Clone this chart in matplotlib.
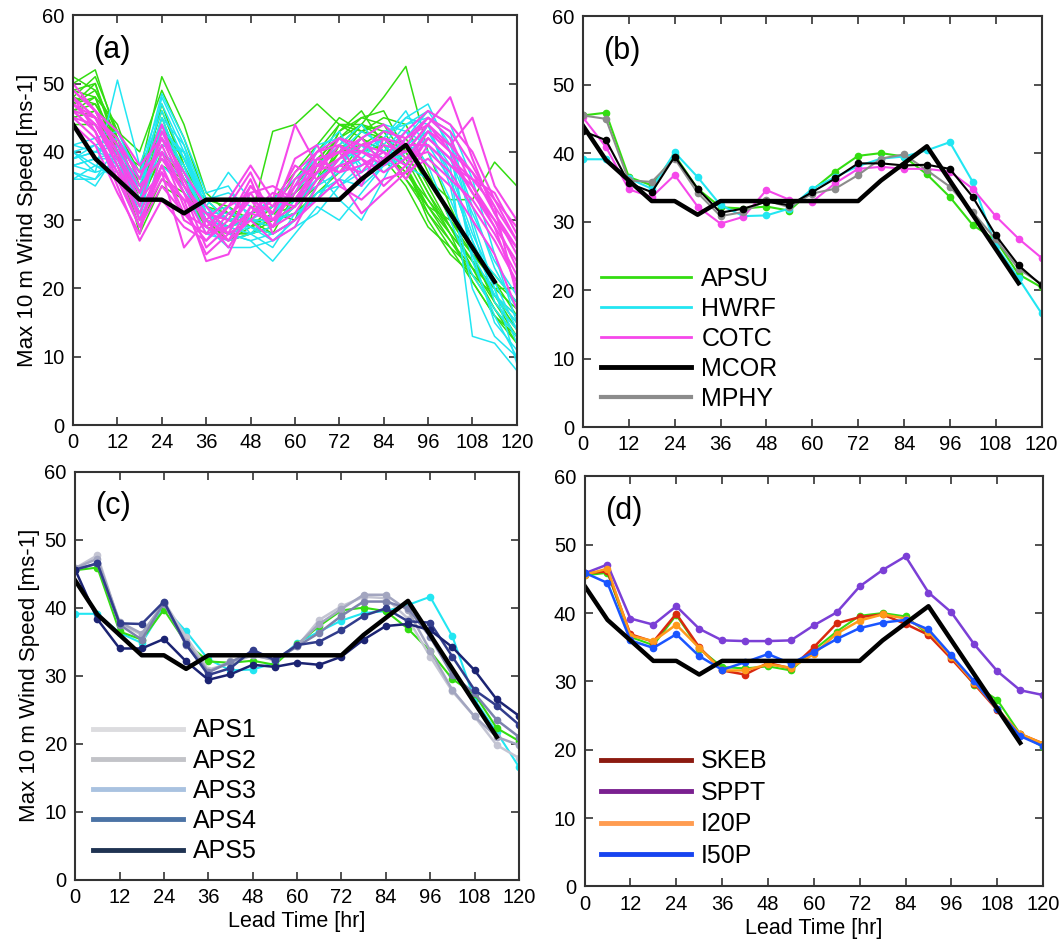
import matplotlib
matplotlib.use("Agg")
import matplotlib.pyplot as plt
from matplotlib.lines import Line2D

plt.rcParams["font.family"] = ["Liberation Sans", "DejaVu Sans"]

# lead times (hr)
lead = [0, 6, 12, 18, 24, 30, 36, 42, 48, 54, 60, 66, 72, 78, 84, 90, 96, 102, 108, 114, 120]
obs_lead = lead[:20]

# best track (thick black)
obs = [44, 39, 36, 33, 33, 31, 33, 33, 33, 33, 33, 33, 33, 36, 38.5, 41, 36, 31, 26, 21]

# panel (a): ensemble members
apsu_members = [
    [50, 52, 42, 36, 46, 38, 32, 30, 29, 32, 36, 40, 44, 44, 48, 52.5, 40, 32, 25, 18, 14],
    [48, 51, 43, 37, 51, 44, 34, 31, 30, 43, 44, 47, 44, 42, 40, 37, 32, 28, 24, 19, 15],
    [47, 48, 40, 33, 44, 37, 31, 29, 28, 29, 33, 38, 42, 45, 46, 40, 34, 29, 23, 17, 13],
    [46, 47, 41, 35, 42, 35, 30, 28, 28, 31, 32, 36, 40, 44, 43, 42, 36, 33, 33, 38.5, 35],
    [45, 46, 39, 31, 38, 36, 30, 27, 29, 28, 30, 35, 41, 44, 42, 38, 32, 27, 22, 17, 12],
    [44, 44, 38, 29, 36, 34, 29, 28, 30, 30, 31, 33, 38, 42, 40, 36, 31, 26, 21, 16, 13],
    [49, 50, 41, 34, 45, 37, 31, 29, 31, 32, 34, 37, 43, 46, 41, 38, 30, 25, 22, 19, 16],
    [46, 45, 40, 32, 40, 36, 33, 32, 30, 29, 35, 39, 42, 44, 40, 37, 33, 29, 24, 20, 17],
    [47, 49, 42, 34, 47, 38, 30, 27, 28, 30, 32, 35, 39, 43, 45, 44, 37, 30, 25, 21, 18],
    [45, 46, 40, 28, 35, 33, 31, 30, 29, 31, 33, 35, 40, 41, 39, 35, 29, 26, 23, 20, 20],
    [51, 49, 43, 40, 49, 42, 33, 30, 31, 33, 37, 41, 45, 43, 44, 39, 33, 28, 24, 19, 14],
    [46, 48, 39, 36, 43, 39, 32, 31, 29, 30, 31, 34, 37, 41, 43, 38, 31, 27, 23, 18, 13],
    [48, 47, 42, 33, 39, 35, 29, 27, 28, 29, 32, 36, 43, 45, 44, 41, 35, 29, 25, 22, 18],
    [47, 50, 40, 38, 44, 36, 30, 29, 30, 28, 34, 37, 41, 40, 41, 36, 32, 30, 26, 21, 16],
    [49, 48, 44, 35, 41, 40, 31, 32, 29, 31, 30, 38, 44, 43, 42, 40, 34, 28, 21, 16, 12],
]
hwrf_members = [
    [38, 37, 50.5, 38, 47, 40, 33, 30, 29, 27, 30, 34, 36, 40, 42, 45, 47, 40, 25, 15, 11],
    [37, 35, 40, 33, 48, 41, 31, 28, 27, 24, 28, 32, 30, 34, 38, 40, 44, 35, 20, 13, 10],
    [40, 41, 38, 30, 44, 39, 32, 37, 33, 31, 35, 41, 42, 38, 40, 44, 45, 42, 29, 18, 14],
    [36, 38, 36, 29, 40, 37, 30, 29, 28, 29, 32, 37, 33, 30, 36, 42, 46, 44, 36, 25, 15],
    [39, 40, 41, 34, 42, 38, 29, 26, 26, 27, 29, 31, 35, 37, 39, 41, 43, 38, 13, 12, 8],
    [41, 42, 43, 36, 39, 36, 31, 31, 30, 32, 33, 35, 37, 39, 42, 46, 40, 33, 25, 19, 16],
    [38, 39, 39, 35, 45, 41, 33, 34, 32, 30, 31, 33, 38, 42, 44, 43, 38, 30, 22, 17, 13],
    [40, 38, 37, 32, 41, 40, 32, 30, 31, 33, 36, 39, 40, 43, 41, 38, 36, 31, 26, 22, 18],
    [37, 36, 39, 31, 43, 38, 30, 28, 29, 28, 30, 35, 39, 41, 37, 40, 42, 39, 31, 24, 19],
    [39, 40, 42, 37, 46, 39, 31, 32, 28, 31, 34, 38, 41, 44, 40, 38, 44, 36, 27, 20, 9],
    [38, 39, 40, 36, 48.5, 42, 34, 35, 30, 29, 33, 36, 39, 40, 43, 44, 46, 41, 32, 23, 17],
    [40, 37, 38, 33, 43, 40, 31, 29, 30, 30, 34, 40, 43, 37, 41, 45, 44, 40, 24, 16, 10],
    [36, 36, 41, 30, 38, 35, 28, 27, 28, 26, 31, 33, 36, 35, 38, 39, 43, 37, 28, 21, 14],
    [41, 40, 39, 32, 44, 39, 33, 33, 31, 33, 32, 36, 38, 41, 39, 42, 45, 43, 30, 20, 12],
    [39, 41, 42, 34, 45, 37, 30, 28, 27, 28, 30, 34, 35, 38, 40, 43, 41, 36, 27, 19, 15],
]
cotc_members = [
    [50, 46, 40, 34, 41, 34, 28, 29, 33, 31, 37, 40, 41, 36, 39, 40, 44, 48, 39, 31, 25],
    [48, 45, 42, 36, 44, 35, 31, 27, 30, 33, 44, 38, 40, 42, 44, 41, 45, 42, 35, 30, 26],
    [47, 44, 38, 30, 36, 33, 24, 25, 32, 29, 31, 36, 38, 39, 35, 38, 43, 40, 37, 33, 29],
    [46, 43, 35, 27, 33, 29, 27, 30, 36, 28, 30, 33, 36, 31, 34, 37, 39, 36, 33, 28, 22],
    [45, 42, 37, 31, 38, 31, 29, 32, 34, 35, 33, 38, 40, 40, 38, 42, 44, 41, 45, 35, 30],
    [49, 46, 43, 38, 42, 37, 32, 28, 30, 27, 29, 35, 39, 41, 42, 39, 40, 37, 32, 27, 21],
    [44, 41, 34, 28, 40, 32, 25, 28, 35, 31, 39, 41, 35, 33, 36, 37, 42, 39, 34, 29, 24],
    [47, 44, 39, 33, 37, 26, 30, 33, 38, 33, 32, 37, 42, 40, 43, 42, 45, 43, 38, 32, 19],
    [46, 45, 41, 35, 39, 34, 30, 26, 31, 30, 34, 39, 37, 38, 40, 36, 41, 38, 36, 34, 28],
    [48, 43, 36, 29, 35, 31, 27, 31, 33, 29, 35, 37, 39, 42, 38, 41, 38, 35, 30, 25, 17],
    [47, 45, 38, 32, 43, 36, 29, 27, 32, 30, 35, 40, 42, 41, 40, 38, 42, 39, 36, 32, 27],
    [45, 44, 40, 30, 37, 33, 31, 30, 35, 32, 38, 36, 38, 37, 41, 40, 44, 40, 34, 30, 23],
    [49, 46, 41, 37, 40, 34, 26, 29, 31, 34, 33, 37, 41, 39, 37, 39, 43, 41, 37, 31, 26],
    [46, 43, 37, 29, 38, 30, 28, 32, 37, 30, 32, 39, 40, 35, 42, 41, 41, 38, 35, 29, 20],
    [48, 45, 39, 34, 42, 35, 30, 28, 34, 29, 36, 38, 37, 40, 39, 43, 46, 44, 40, 33, 27],
]

# panel (b): ensemble means
apsu = [45.5, 45.9, 36.5, 35.3, 39.7, 34.8, 32.1, 31.9, 32.2, 31.6, 34.6, 37.3, 39.6, 40, 39.5, 36.9, 33.6, 29.5, 27.3, 22.3, 20.4]
hwrf = [39.1, 39.1, 36.3, 34.8, 40.1, 36.5, 32.4, 30.8, 30.9, 31.9, 34.8, 36.5, 38.1, 39.2, 39.5, 40.4, 41.6, 35.8, 26.5, 21.7, 16.6]
cotc = [45.2, 40.9, 34.7, 33.6, 36.8, 32.2, 29.7, 30.7, 34.6, 33.2, 32.9, 35.6, 37.7, 38, 37.7, 37.7, 37.3, 34.8, 30.8, 27.5, 24.7]
mcor = [43.2, 41.9, 35.6, 34.3, 39.5, 34.8, 31.3, 31.9, 32.9, 32.4, 34.3, 36.3, 38.5, 38.5, 38.2, 38.3, 37.7, 33.6, 28, 23.6, 20.7]
mphy = [45.5, 45, 36, 35.8, 39.2, 34.2, 30.8, 31.4, 33.1, 32.1, 34.1, 34.8, 36.8, 39.2, 39.8, 37.5, 35.1, 31.4, 27.4, 23.1, 20.9]

# panel (c)
aps1 = [45.8, 47.7, 37.7, 36, 40.9, 35.7, 30.9, 31.8, 33, 32.3, 34.3, 38.2, 40.2, 41.6, 41.4, 38.4, 32.8, 27.7, 24, 19.8, 17.9]
aps2 = [45.8, 47.2, 37.9, 36.2, 40.6, 35, 30.6, 32.1, 33, 32.3, 34.5, 37.6, 39.8, 41.9, 41.9, 39.6, 33.7, 27.9, 24, 21, 19.8]
aps3 = [45.6, 46.5, 37.5, 35.3, 40.7, 34.5, 30.5, 32, 33.6, 32.3, 34.3, 36.3, 38.8, 40.9, 40.9, 39.9, 35.7, 30.1, 27.4, 23.5, 21]
aps4 = [45.6, 46.5, 37.7, 37.6, 40.9, 34.6, 30.1, 31.1, 33.8, 32.3, 34.5, 35, 36.7, 38.8, 39.9, 38, 37.8, 32.8, 27.9, 25.6, 22.8]
aps5 = [45.6, 38.3, 34, 34, 35.4, 32.1, 29.4, 30.2, 31.6, 31.3, 31.9, 31.6, 32.8, 35.3, 37.3, 37.6, 36.7, 34.2, 30.8, 26.5, 24.1]

# panel (d)
skeb = [45.8, 46.1, 36.9, 35.8, 39.9, 35, 31.6, 31, 32.7, 31.9, 35, 38.5, 39.4, 39.8, 38.4, 36.8, 33.3, 29.6, 25.8, 22.3, 20.9]
sppt = [45.8, 47.1, 39.2, 38.3, 41, 37.7, 36, 35.9, 35.9, 36, 38.2, 40.1, 43.9, 46.3, 48.3, 43, 40.1, 35.4, 31.5, 28.7, 28]
i20p = [45.6, 46.5, 36.7, 35.9, 38.3, 34.9, 31.6, 31.6, 32.5, 32, 34, 37, 38.9, 39.8, 39.2, 37.3, 33.6, 29.8, 26, 22.3, 20.9]
i50p = [45.9, 44.4, 36, 34.9, 36.9, 33.7, 31.7, 32.8, 34, 32.6, 34.3, 36.2, 37.8, 38.6, 39, 37.6, 33.8, 30, 25.9, 22, 20.5]

GREEN = "#33dd11"
CYAN = "#22e6f2"
MAGENTA = "#f548ea"
GRAY = "#8c8c8c"


def style_axes(ax, label, xlabel=False, ylabel=False):
    ax.set_xlim(0, 120)
    ax.set_ylim(0, 60)
    ax.set_xticks(range(0, 121, 12))
    ax.set_yticks(range(0, 61, 10))
    ax.tick_params(direction="in", top=True, right=True, length=6, width=1.2,
                   labelsize=14.5, color="#333333", pad=6)
    for s in ax.spines.values():
        s.set_linewidth(1.5)
        s.set_color("#333333")
    ax.text(0.045, 0.915, label, transform=ax.transAxes, fontsize=22, va="center", ha="left")
    if xlabel:
        ax.set_xlabel("Lead Time [hr]", fontsize=15.5, labelpad=3)
    if ylabel:
        ax.set_ylabel("Max 10 m Wind Speed [ms-1]", fontsize=16, labelpad=3)


def add_legend(ax, names, colors, widths, anchor, spacing=0.22):
    handles = [Line2D([0], [0], color=c, lw=w) for c, w in zip(colors, widths)]
    ax.legend(handles, names, loc="lower left", bbox_to_anchor=anchor, frameon=False,
              fontsize=18, handlelength=3.6, handletextpad=0.4, labelspacing=spacing,
              borderpad=0, borderaxespad=0)


def main():
    fig = plt.figure(figsize=(10.59, 9.49), dpi=100)
    ax_a = fig.add_axes([0.069, 0.552, 0.419, 0.432])
    ax_b = fig.add_axes([0.5505, 0.550, 0.433, 0.433])
    ax_c = fig.add_axes([0.071, 0.073, 0.419, 0.430])
    ax_d = fig.add_axes([0.552, 0.066, 0.433, 0.432])

    mk = dict(marker="o", markersize=4.5)

    # (a) spaghetti
    for m in apsu_members:
        ax_a.plot(lead, m, color=GREEN, lw=1.1)
    for m in hwrf_members:
        ax_a.plot(lead, m, color=CYAN, lw=1.1)
    for m in cotc_members:
        ax_a.plot(lead, m, color=MAGENTA, lw=1.5)
    ax_a.plot(obs_lead, obs, color="black", lw=3.2)
    style_axes(ax_a, "(a)", ylabel=True)

    # (b)
    for y, c in [(apsu, GREEN), (hwrf, CYAN), (cotc, MAGENTA), (mphy, GRAY), (mcor, "black")]:
        ax_b.plot(lead, y, color=c, lw=1.5, **mk)
    ax_b.plot(obs_lead, obs, color="black", lw=3.2)
    style_axes(ax_b, "(b)")
    add_legend(ax_b, ["APSU", "HWRF", "COTC", "MCOR", "MPHY"],
               [GREEN, CYAN, MAGENTA, "black", GRAY], [2, 2, 2, 3.5, 3], (0.04, 0.04), 0.24)

    # (c)
    ax_c.plot(lead, hwrf, color=CYAN, lw=1.5, **mk)
    ax_c.plot(lead, apsu, color=GREEN, lw=1.5, **mk)
    c_cols = ["#c4c5d3", "#a3a6c0", "#7d83ad", "#323d8c", "#1b2372"]
    for y, c in zip([aps1, aps2, aps3, aps4, aps5], c_cols):
        ax_c.plot(lead, y, color=c, lw=1.8, **mk)
    ax_c.plot(obs_lead, obs, color="black", lw=3.2)
    style_axes(ax_c, "(c)", xlabel=True, ylabel=True)
    add_legend(ax_c, ["APS1", "APS2", "APS3", "APS4", "APS5"],
               ["#dcdcdf", "#c2c3c8", "#a9c2e0", "#4b73a5", "#1f3352"], [3.5] * 5, (0.04, 0.04), 0.25)

    # (d)
    ax_d.plot(lead, apsu, color=GREEN, lw=1.5, **mk)
    d_cols = ["#d9290f", "#7b3fd6", "#ff9a1a", "#1a55ff"]
    for y, c in zip([skeb, sppt, i20p, i50p], d_cols):
        ax_d.plot(lead, y, color=c, lw=1.8, **mk)
    ax_d.plot(obs_lead, obs, color="black", lw=3.2)
    style_axes(ax_d, "(d)", xlabel=True)
    add_legend(ax_d, ["SKEB", "SPPT", "I20P", "I50P"],
               ["#8c1a10", "#7a2090", "#ff9c50", "#1744f0"], [3.5] * 4, (0.035, 0.045), 0.3)

    fig.savefig("out.png", dpi=100)
    plt.close(fig)


if __name__ == "__main__":
    main()
